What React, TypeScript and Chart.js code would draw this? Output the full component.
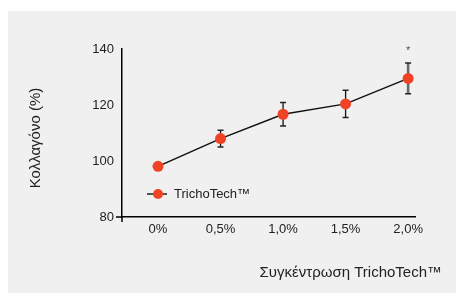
import React, { useEffect, useRef } from "react";
import { Chart, registerables } from "chart.js";

Chart.register(...registerables);

const categories = ["0%", "0,5%", "1,0%", "1,5%", "2,0%"];
const collagen = [98.1, 108.0, 116.7, 120.4, 129.5];
const errors = [0, 3.0, 4.2, 4.9, 5.5];
const significance = ["", "", "", "", "*"];
const yTicks = [80, 100, 120, 140];
const seriesName = "TrichoTech™";
const yTitle = "Κολλαγόνο (%)";
const xTitle = "Συγκέντρωση TrichoTech™";

const FONT = "'Liberation Sans', Arial, sans-serif";
const TEXT = "#222";
const RED = "#f04326";

const decorPlugin = {
  id: "decor",
  beforeDatasetsDraw(chart: any) {
    const { ctx, scales } = chart;
    const xs = scales.x;
    const ys = scales.y;
    ctx.save();
    collagen.forEach((v, i) => {
      const e = errors[i];
      if (!e) return;
      const px = xs.getPixelForValue(i);
      const top = ys.getPixelForValue(v + e);
      const bot = ys.getPixelForValue(v - e);
      const hl = !!significance[i];
      ctx.strokeStyle = hl ? "#6a6a6a" : "#111";
      ctx.lineWidth = hl ? 2.6 : 1.3;
      ctx.beginPath();
      ctx.moveTo(px, top);
      ctx.lineTo(px, bot);
      ctx.stroke();
      ctx.strokeStyle = "#222";
      ctx.lineWidth = 1.5;
      ctx.beginPath();
      ctx.moveTo(px - 3, top);
      ctx.lineTo(px + 3, top);
      ctx.moveTo(px - 3, bot);
      ctx.lineTo(px + 3, bot);
      ctx.stroke();
    });
    ctx.restore();
  },
  afterDraw(chart: any) {
    const { ctx, scales, chartArea } = chart;
    const xs = scales.x;
    const ys = scales.y;
    ctx.save();
    ctx.strokeStyle = "#000";
    ctx.lineWidth = 1.5;
    ctx.beginPath();
    ctx.moveTo(chartArea.left - 6, chartArea.bottom);
    ctx.lineTo(chartArea.left, chartArea.bottom);
    ctx.moveTo(chartArea.left, chartArea.bottom);
    ctx.lineTo(chartArea.left, chartArea.bottom + 5);
    ctx.stroke();

    ctx.fillStyle = "#555";
    ctx.font = `11px ${FONT}`;
    ctx.textAlign = "center";
    ctx.textBaseline = "alphabetic";
    significance.forEach((s, i) => {
      if (!s) return;
      const px = xs.getPixelForValue(i);
      const py = ys.getPixelForValue(collagen[i] + errors[i]);
      ctx.fillText(s, px, py - 9);
    });

    const lx = chartArea.left + 25;
    const ly = chartArea.bottom - 23;
    ctx.strokeStyle = "#555";
    ctx.lineWidth = 2;
    ctx.beginPath();
    ctx.moveTo(lx, ly);
    ctx.lineTo(lx + 20, ly);
    ctx.stroke();
    ctx.fillStyle = RED;
    ctx.beginPath();
    ctx.arc(lx + 11, ly, 5, 0, Math.PI * 2);
    ctx.fill();
    ctx.fillStyle = TEXT;
    ctx.font = `13px ${FONT}`;
    ctx.textAlign = "left";
    ctx.textBaseline = "middle";
    ctx.fillText(seriesName, lx + 27, ly + 0.5);

    ctx.font = `15px ${FONT}`;
    ctx.textAlign = "right";
    ctx.textBaseline = "middle";
    ctx.fillText(xTitle, 442, 273);
    ctx.save();
    ctx.translate(36, 138);
    ctx.rotate(-Math.PI / 2);
    ctx.textAlign = "center";
    ctx.fillText(yTitle, 0, 0);
    ctx.restore();
    ctx.restore();
  },
};

export default function App() {
  const ref = useRef<HTMLCanvasElement | null>(null);
  useEffect(() => {
    if (!ref.current) return;
    const chart = new Chart(ref.current, {
      type: "line",
      data: {
        datasets: [
          {
            label: seriesName,
            data: collagen.map((v, i) => ({ x: i, y: v })),
            borderColor: "#111",
            borderWidth: 1.5,
            pointBackgroundColor: RED,
            pointBorderWidth: 0,
            pointRadius: 5.5,
            tension: 0,
          },
        ],
      },
      options: {
        responsive: false,
        animation: false,
        layout: { padding: { top: 49, right: 42, left: 0, bottom: 0 } },
        plugins: { legend: { display: false }, tooltip: { enabled: false } },
        scales: {
          x: {
            type: "linear",
            min: -0.576,
            max: 4.11,
            afterBuildTicks: (s: any) => {
              s.ticks = categories.map((_, i) => ({ value: i }));
            },
            afterFit: (s: any) => {
              s.height = 76;
            },
            ticks: {
              callback: (v: any) => categories[v] ?? "",
              font: { family: FONT, size: 13 },
              color: TEXT,
              padding: 5,
              autoSkip: false,
              maxRotation: 0,
            },
            grid: { display: false, drawTicks: false },
            border: { display: true, color: "#000", width: 1.5 },
          },
          y: {
            min: 80,
            max: 140,
            afterBuildTicks: (s: any) => {
              s.ticks = yTicks.map((v) => ({ value: v }));
            },
            afterFit: (s: any) => {
              s.width = 122;
            },
            ticks: {
              font: { family: FONT, size: 13 },
              color: TEXT,
              padding: 8,
            },
            grid: { display: false, drawTicks: false },
            border: { display: true, color: "#000", width: 1.5 },
          },
        },
      },
      plugins: [decorPlugin],
    } as any);
    return () => chart.destroy();
  }, []);

  return (
    <div style={{ position: "fixed", left: 0, top: 0, width: 457, height: 293, background: "#fff" }}>
      <div style={{ position: "absolute", left: 8, top: 11, width: 448, height: 282, background: "#f0f0f0" }} />
      <canvas ref={ref} width={457} height={293} style={{ position: "absolute", left: 0, top: 0, width: 457, height: 293 }} />
    </div>
  );
}
